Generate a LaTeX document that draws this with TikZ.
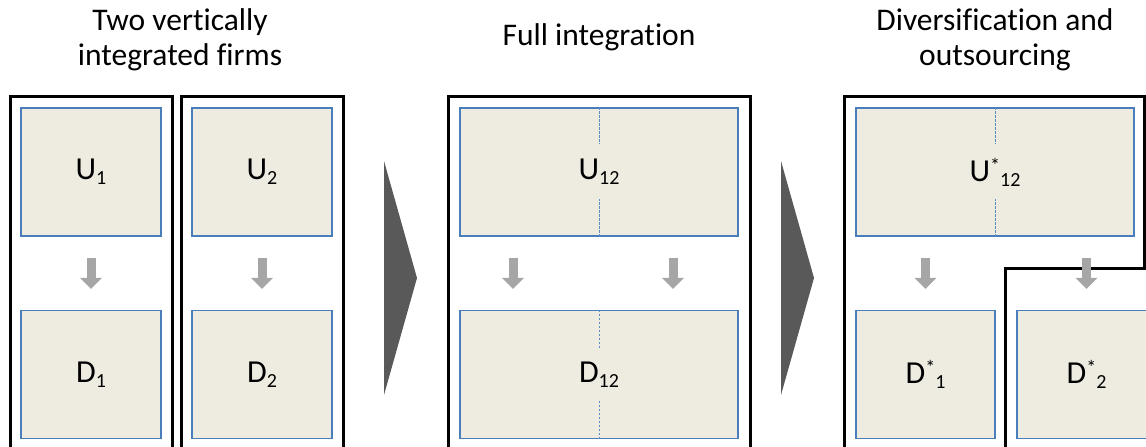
\documentclass[tikz,border=0pt]{standalone}
\usepackage{fontspec}
\setmainfont{Carlito}[Ligatures=NoCommon]
\usetikzlibrary{arrows.meta,calc}
\definecolor{boxfill}{HTML}{EEECE1}
\definecolor{boxline}{HTML}{4A7EBB}
\definecolor{seamline}{HTML}{5B8CC8}
\definecolor{flowgray}{HTML}{A6A6A6}
\definecolor{chevgray}{HTML}{595959}
\newcommand{\lowidx}[1]{\raisebox{-5pt}{\fontsize{20}{20}\selectfont #1}}
\newcommand{\highidx}[1]{\raisebox{9pt}{\fontsize{20}{20}\selectfont #1}}
\begin{document}
\begin{tikzpicture}[x=1pt,y=-1pt,
 unit/.style={draw=boxline, line width=1.1pt, fill=boxfill, minimum width=140pt, minimum height=128pt, inner sep=0pt, font=\fontsize{32}{36}\selectfont},
 wideunit/.style={unit, minimum width=278pt},
 halfunit/.style={unit, minimum width=139pt},
 frame/.style={draw=black, line width=3pt, line join=miter},
 flow/.style={draw=flowgray, line width=9pt, -{Triangle[width=21pt,length=11pt]}},
 seam/.style={draw=seamline, line width=0.8pt, dash pattern=on 2.5pt off 1.5pt},
 chev/.style={fill=chevgray, draw=none},
 title/.style={anchor=base, inner sep=0pt, font=\fontsize{31.5}{36}\selectfont}]
\useasboundingbox (0,0) rectangle (1146,447);
\clip (0,0) rectangle (1146,447);
% titles
\node[title] (t1a) at (180,30) {Two vertically};
\node[title] (t1b) at (180,65) {integrated firms};
\node[title] (t2) at (599,45) {Full integration};
\node[title] (t3a) at (995,30) {Diversification and};
\node[title] (t3b) at (995,65) {outsourcing};
% frames
\draw[frame] (10,460) -- (10,96) -- (172,96) -- (172,460);
\draw[frame] (181,460) -- (181,96) -- (343,96) -- (343,460);
\draw[frame] (448,460) -- (448,96) -- (750,96) -- (750,460);
\draw[frame] (844,460) -- (844,96) -- (1144,96) -- (1144,268) -- (1005,268) -- (1005,460);
% chevrons
\fill[chev] (384,161) -- (417,278) -- (384,395) -- cycle;
\fill[chev] (781,161) -- (814,278) -- (781,395) -- cycle;
% units
\node[unit] (U1) at (91,172) {U\lowidx{1}};
\node[unit] (D1) at (91,374.5) {D\lowidx{1}};
\node[unit] (U2) at (262,172) {U\lowidx{2}};
\node[unit] (D2) at (262,374.5) {D\lowidx{2}};
\node[wideunit] (U12) at (599,172) {U\lowidx{12}};
\node[wideunit] (D12) at (599,374.5) {D\lowidx{12}};
\node[wideunit] (U12s) at (995,172) {U\highidx{*}\lowidx{12}};
\node[halfunit] (D1s) at (925.5,374.5) {D\highidx{*}\lowidx{1}};
\node[halfunit] (D2s) at (1086.5,374.5) {D\highidx{*}\lowidx{2}};
% seams
\draw[seam] (U12.north) -- ++(0,37);
\draw[seam] (U12.south) -- ++(0,-38);
\draw[seam] (D12.north) -- ++(0,38);
\draw[seam] (D12.south) -- ++(0,-39);
\draw[seam] (U12s.north) -- ++(0,37);
\draw[seam] (U12s.south) -- ++(0,-38);
% flows
\draw[flow] ($(U1.south)+(0,21)$) -- ($(D1.north)+(0,-21)$);
\draw[flow] ($(U2.south)+(0,21)$) -- ($(D2.north)+(0,-21)$);
\draw[flow] ($(U12.south)+(-86,21)$) -- ($(D12.north)+(-86,-21)$);
\draw[flow] ($(U12.south)+(74,21)$) -- ($(D12.north)+(74,-21)$);
\draw[flow] ($(D1s.north |- U12s.south)+(0,21)$) -- ($(D1s.north)+(0,-21)$);
\draw[flow] ($(D2s.north |- U12s.south)+(0,21)$) -- ($(D2s.north)+(0,-21)$);
\end{tikzpicture}
\end{document}
